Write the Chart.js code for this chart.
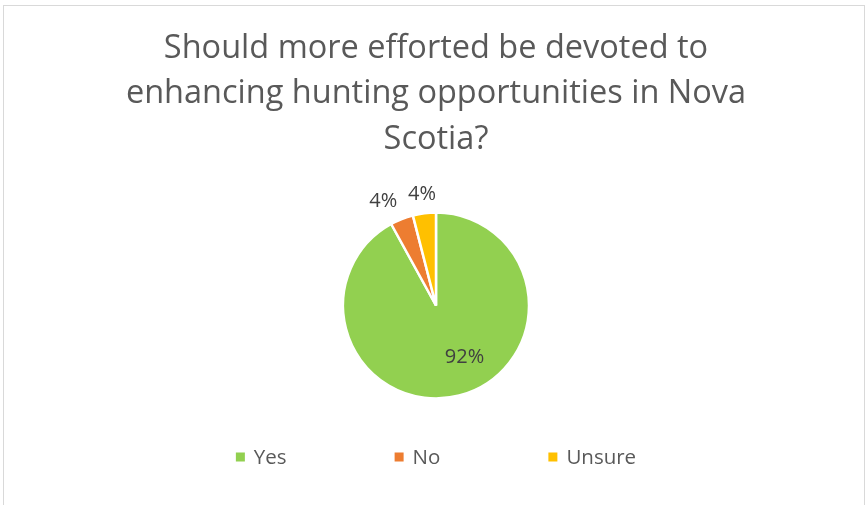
<!DOCTYPE html>
<html>
<head>
<meta charset="utf-8">
<script src="https://cdn.jsdelivr.net/npm/chart.js@4.4.1/dist/chart.umd.min.js"></script>
<style>
  html, body { margin: 0; padding: 0; background: #fff; }
  canvas { display: block; }
</style>
</head>
<body>
<canvas id="pieChart" width="867" height="505"></canvas>
<script>
// datos del grafico
var titleLines = ['Should more efforted be devoted to', 'enhancing hunting opportunities in Nova', 'Scotia?'];
var categories = ['Yes', 'No', 'Unsure'];
var percentages = [92, 4, 4];
var sliceColors = ['#92D050', '#ED7D31', '#FFC000'];

var textGray = '#595959';
var fontFamily = '"Open Sans", "Liberation Sans", sans-serif';

// marco gris alrededor del grafico
var framePlugin = {
  id: 'frame',
  beforeDraw: function (chart) {
    var ctx = chart.ctx;
    ctx.save();
    ctx.fillStyle = '#ffffff';
    ctx.fillRect(0, 0, chart.width, chart.height);
    ctx.strokeStyle = '#D9D9D9';
    ctx.lineWidth = 1;
    ctx.strokeRect(3.5, 5.5, 861, 510);
    ctx.restore();
  }
};

// etiquetas de porcentaje sobre cada porcion
var pctLabelsPlugin = {
  id: 'pctLabels',
  afterDatasetsDraw: function (chart, args, opts) {
    var ctx = chart.ctx;
    var meta = chart.getDatasetMeta(0);
    ctx.save();
    ctx.font = '20px ' + fontFamily;
    ctx.fillStyle = '#404040';
    ctx.textAlign = 'center';
    ctx.textBaseline = 'middle';
    meta.data.forEach(function (arc, i) {
      var p = arc.getProps(['x', 'y', 'startAngle', 'endAngle', 'outerRadius'], true);
      var mid = (p.startAngle + p.endAngle) / 2;
      var f = opts.radiusFactor[i];
      var x = p.x + Math.cos(mid) * p.outerRadius * f + opts.shift[i][0];
      var y = p.y + Math.sin(mid) * p.outerRadius * f + opts.shift[i][1];
      ctx.fillText(chart.data.datasets[0].data[i] + '%', x, y);
    });
    ctx.restore();
  }
};

// leyenda dibujada a mano (espaciado amplio como en Excel)
var legendPlugin = {
  id: 'wideLegend',
  afterDraw: function (chart, args, opts) {
    var ctx = chart.ctx;
    var box = 9, gapText = 9, gapItem = opts.gap;
    ctx.save();
    ctx.font = '20.5px ' + fontFamily;
    ctx.textBaseline = 'middle';
    ctx.textAlign = 'left';
    var widths = categories.map(function (c) {
      return box + gapText + ctx.measureText(c).width;
    });
    var total = widths.reduce(function (a, b) { return a + b; }, 0) + gapItem * (categories.length - 1);
    var cx = (chart.chartArea.left + chart.chartArea.right) / 2;
    var x = cx - total / 2;
    var y = opts.y;
    categories.forEach(function (c, i) {
      ctx.fillStyle = sliceColors[i];
      ctx.fillRect(x, y - box / 2, box, box);
      ctx.fillStyle = textGray;
      ctx.fillText(c, x + box + gapText, y + 1);
      x += widths[i] + gapItem;
    });
    ctx.restore();
  }
};

var ctx = document.getElementById('pieChart').getContext('2d');
var pieChart = new Chart(ctx, {
  type: 'pie',
  data: {
    labels: categories,
    datasets: [{
      data: percentages,
      backgroundColor: sliceColors,
      borderColor: '#ffffff',
      borderWidth: 2.5,
      radius: 93
    }]
  },
  options: {
    responsive: false,
    devicePixelRatio: 1,
    animation: false,
    layout: {
      padding: { left: 5, right: 0, top: 4, bottom: 59 }
    },
    plugins: {
      title: {
        display: true,
        text: titleLines,
        color: textGray,
        font: { family: fontFamily, size: 32.5, weight: 'normal', lineHeight: 1.4 },
        padding: { top: 21.5, bottom: 3 }
      },
      legend: { display: false },
      tooltip: { enabled: false },
      pctLabels: {
        radiusFactor: [0.63, 1.28, 1.2],
        shift: [[14, -5], [-9, 6], [0, 0]]
      },
      wideLegend: { y: 457, gap: 108 }
    }
  },
  plugins: [framePlugin, pctLabelsPlugin, legendPlugin]
});
</script>
</body>
</html>
